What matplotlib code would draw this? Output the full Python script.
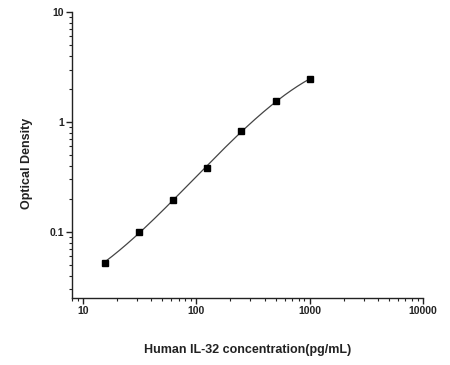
import numpy as np
import matplotlib
matplotlib.use("Agg")
import matplotlib.pyplot as plt
from matplotlib.ticker import LogLocator, NullFormatter, FixedLocator, FixedFormatter

plt.rcParams['font.family'] = ['Liberation Sans', 'DejaVu Sans']

concentration = [15.6, 31.25, 62.5, 125, 250, 500, 1000]
optical_density = [0.0526, 0.1006, 0.195, 0.384, 0.834, 1.54, 2.44]
x_ticks = [10, 100, 1000, 10000]
x_tick_labels = ["10", "100", "1000", "10000"]
y_ticks = [0.1, 1, 10]
y_tick_labels = ["0.1", "1", "10"]

fig = plt.figure(figsize=(4.5, 3.65), dpi=100)
ax = fig.add_axes([0.16, 0.184, 0.78, 0.783])

# smooth fitted curve in log-log space
lx = np.log10(concentration)
ly = np.log10(optical_density)
coef = np.polyfit(lx, ly, 3)
xs = np.linspace(lx.min(), lx.max(), 200)
ax.plot(10 ** xs, 10 ** np.polyval(coef, xs), color='#444444', lw=0.9, zorder=2)
ax.plot(concentration, optical_density, 's', color='black', ms=3.8, zorder=3)

ax.set_xscale('log')
ax.set_yscale('log')
ax.set_xlim(8, 10000)
ax.set_ylim(0.0251, 10)

ax.xaxis.set_major_locator(FixedLocator(x_ticks))
ax.xaxis.set_major_formatter(FixedFormatter(x_tick_labels))
ax.yaxis.set_major_locator(FixedLocator(y_ticks))
ax.yaxis.set_major_formatter(FixedFormatter(y_tick_labels))
ax.xaxis.set_minor_locator(LogLocator(base=10, subs=np.arange(2, 10), numticks=20))
ax.yaxis.set_minor_locator(LogLocator(base=10, subs=np.arange(2, 10), numticks=20))
ax.xaxis.set_minor_formatter(NullFormatter())
ax.yaxis.set_minor_formatter(NullFormatter())

for s in ['top', 'right']:
    ax.spines[s].set_visible(False)
for s in ['left', 'bottom']:
    ax.spines[s].set_linewidth(1.0)
    ax.spines[s].set_color('#222222')

ax.tick_params(which='major', direction='out', length=4, width=1.0, color='#222222',
               labelsize=7.5, pad=2)
ax.tick_params(which='minor', direction='out', length=2.5, width=0.8, color='#222222')
for lab in ax.get_xticklabels() + ax.get_yticklabels():
    lab.set_fontweight('bold')
    lab.set_color('#222222')

ax.set_xlabel('Human IL-32 concentration(pg/mL)', fontsize=9, fontweight='bold',
              color='#222222', va='center')
ax.xaxis.set_label_coords(0.5, -0.182)
ax.set_ylabel('Optical Density', fontsize=9, fontweight='bold', color='#222222',
              va='center', ha='center', rotation_mode='anchor')
ax.yaxis.set_label_coords(-0.128, 0.47)

fig.savefig('out.png', dpi=100)
